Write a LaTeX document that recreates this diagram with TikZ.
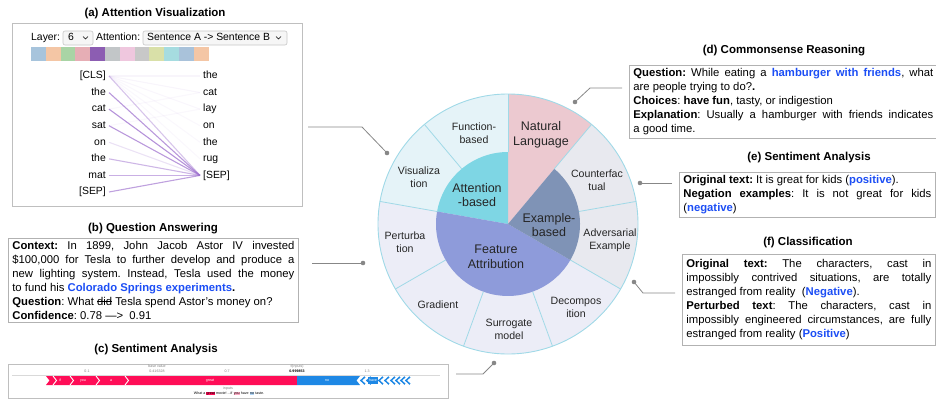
\documentclass[tikz,border=0pt]{standalone}
\usepackage{fontspec}
\setmainfont{Liberation Sans}
\usetikzlibrary{calc}
\frenchspacing

\definecolor{hlblue}{RGB}{28,78,245}
\definecolor{ringline}{RGB}{160,217,231}
\definecolor{ringcyan}{RGB}{229,243,248}
\definecolor{ringlav}{RGB}{236,237,247}
\definecolor{ringgray}{RGB}{232,233,239}
\definecolor{natpink}{RGB}{236,201,208}
\definecolor{attcyan}{RGB}{126,214,228}
\definecolor{featblue}{RGB}{142,155,218}
\definecolor{exslate}{RGB}{127,147,182}
\definecolor{leader}{RGB}{135,135,135}
\definecolor{attpurple}{RGB}{156,110,205}
\definecolor{shapred}{RGB}{255,13,87}
\definecolor{shapblue}{RGB}{30,136,229}
\definecolor{headA}{RGB}{167,196,220}
\definecolor{headB}{RGB}{244,198,165}
\definecolor{headC}{RGB}{169,212,165}
\definecolor{headD}{RGB}{230,174,181}
\definecolor{headE}{RGB}{140,93,178}
\definecolor{headF}{RGB}{194,198,200}
\definecolor{headG}{RGB}{239,199,222}
\definecolor{headH}{RGB}{200,200,200}
\definecolor{headI}{RGB}{217,224,168}
\definecolor{headJ}{RGB}{166,220,224}
\definecolor{headK}{RGB}{169,194,218}
\definecolor{headL}{RGB}{244,198,165}

\newcommand{\tokhl}[2]{{\setlength{\fboxsep}{0.3pt}\colorbox{#1}{#2}}}
\newsavebox{\strikebox}
\newcommand{\strikeword}[1]{\sbox{\strikebox}{#1}\rlap{\rule[0.3em]{\wd\strikebox}{0.7pt}}\usebox{\strikebox}}

\tikzset{
  paneltitle/.style={font=\fontsize{11.5}{13}\selectfont\bfseries},
  panelbox/.style={draw=gray!60, line width=0.7pt, fill=white, inner xsep=4pt,
    inner ysep=3pt, align=justify, font=\fontsize{11.3}{14}\selectfont},
  ringlabel/.style={align=center, font=\fontsize{10.6}{13}\selectfont, text=black!85},
  corelabel/.style={align=center, font=\fontsize{12.5}{14.5}\selectfont, text=black!85},
  token/.style={font=\fontsize{10.4}{12}\selectfont, inner xsep=3pt, inner ysep=0pt,
    text height=7.5pt, text depth=2pt},
  attline/.style={attpurple, line width=1.1pt},
  leaderline/.style={leader, line width=0.8pt},
  dropbox/.style={draw=gray!45, fill=gray!7, rounded corners=2pt, line width=0.6pt},
  tinytext/.style={font=\fontsize{3.6}{4}\selectfont, inner sep=0pt},
}

\begin{document}
\begin{tikzpicture}[x=1pt,y=-1pt]
\useasboundingbox (0,0) rectangle (936,399);

% the wheel
\coordinate (C) at (508,224);
\foreach \a/\b/\c in {90/130/ringcyan,130/170/ringcyan,170/210/ringlav,210/250/ringlav,
  250/290/ringlav,290/330/ringlav,330/370/ringgray,10/50/ringgray,50/90/natpink}
  \fill[\c] (C) -- ++(-\a:130) arc[start angle=-\a, end angle=-\b, radius=130] -- cycle;
\foreach \a/\b/\c in {90/170/attcyan,170/330/featblue,330/410/exslate}
  \fill[\c] (C) -- ++(-\a:72) arc[start angle=-\a, end angle=-\b, radius=72] -- cycle;
\foreach \a in {10,50,...,330}
  \draw[ringline, line width=0.8pt] ($(C)+(-\a:72)$) -- ($(C)+(-\a:130)$);
\draw[ringline, line width=0.9pt] (C) circle[radius=130];

\node[ringlabel] (fb) at (474,133) {Function-\\based};
\node[corelabel] (nl) at (541,135) {Natural\\Language};
\node[ringlabel] (vis) at (419,177) {Visualiza\\tion};
\node[corelabel] (ab) at (477,195) {Attention\\-based};
\node[ringlabel] (cf) at (597,180) {Counterfac\\tual};
\node[corelabel] (eb) at (549,225) {Example-\\based};
\node[ringlabel] (adv) at (610,240) {Adversarial\\Example};
\node[ringlabel] (pert) at (405,242) {Perturba\\tion};
\node[corelabel] (fa) at (496,257) {Feature\\Attribution};
\node[ringlabel] (grad) at (438,305) {Gradient};
\node[ringlabel] (dec) at (576,307) {Decompos\\ition};
\node[ringlabel] (sur) at (509,329) {Surrogate\\model};

% (a) attention visualization
\node[paneltitle] (ta) at (155,14) {(a) Attention Visualization};
\node[draw=gray!50, line width=0.7pt, minimum width=290pt, minimum height=183pt,
  anchor=north west, inner sep=0pt] (viz) at (12,23) {};
\node[token, anchor=west] (layer) at (28,38) {Layer:};
\draw[dropbox] (63,31) rectangle (93,45);
\node[token, anchor=west] (laynum) at (65,38) {6};
\draw[line width=0.6pt] (83,36.5) -- (85.5,39) -- (88,36.5);
\node[token, anchor=west] (attn) at (93,38) {Attention:};
\draw[dropbox] (143,31) rectangle (287,45);
\node[token, anchor=west] (pair) at (144,38) {Sentence A -> Sentence B};
\draw[line width=0.6pt] (276,36.5) -- (278.5,39) -- (281,36.5);
\foreach \col [count=\i from 0] in {headA,headB,headC,headD,headE,headF,headG,headH,headI,headJ,headK,headL}
  \fill[\col] ({31+\i*14.8},47) rectangle ++(14.8,14);
\foreach \w [count=\i] in {{[CLS]},the,cat,sat,on,the,mat,{[SEP]}}
  \node[token, anchor=east] (l\i) at (109,{76+(\i-1)*16.57}) {\w};
\foreach \w [count=\i] in {the,cat,lay,on,the,rug,{[SEP]}}
  \node[token, anchor=west] (r\i) at (200,{76+(\i-1)*16.57}) {\w};
\foreach \s/\t/\o in {1/1/0.07,1/2/0.07,1/3/0.06,1/4/0.05,1/5/0.05,1/6/0.05,1/7/0.4,
  2/7/0.7,3/7/0.75,4/7/0.7,5/7/0.2,6/7/0.5,7/7/0.55,8/7/0.65,4/3/0.05,3/2/0.05}
  \draw[attline, opacity=\o] (l\s.east) -- (r\t.west);

% (b) question answering
\node[paneltitle] (tb) at (153,229) {(b) Question Answering};
\node[panelbox, anchor=north west, text width=282pt] (qa) at (8,238) {%
\textbf{Context:} In 1899, John Jacob Astor IV invested \linebreak
\$100,000 for Tesla to further develop and produce a \linebreak
new lighting system. Instead, Tesla used the money \linebreak
to fund his \textcolor{hlblue}{\textbf{Colorado Springs experiments}}\textbf{.}\\
\textbf{Question}: What \strikeword{did} Tesla spend Astor's money on?\\
\textbf{Confidence}: 0.78 —>\ \ 0.91};

% (c) sentiment analysis, force plot
\node[paneltitle] (tc) at (156,350) {(c) Sentiment Analysis};
\node[draw=gray!50, line width=0.7pt, minimum width=440pt, minimum height=34pt,
  anchor=north west, inner sep=0pt] (force) at (8,364) {};
\draw[gray!30, line width=0.4pt] (12,375.5) -- (440,375.5);
\fill[shapred] (46,376) -- (297,376) -- (297,385) -- (46,385) -- (49.5,380.5) -- cycle;
\foreach \x in {53,70,96,125}
  \draw[white, line width=0.9pt] (\x,376) -- ({\x+3.5},380.5) -- (\x,385);
\fill[shapblue] (297,376) -- (360,376) -- (356.5,380.5) -- (360,385) -- (297,385) -- cycle;
\foreach \x in {361,367,379,385,391,396,401,406}
  \draw[shapblue, line width=1.5pt] ({\x+4},376.8) -- (\x,380.5) -- ({\x+4},384.2);
\fill[shapblue] (368,377) rectangle (378,384);
\node[tinytext, text=white] (fif) at (60,380.5) {if};
\node[tinytext, text=white] (fyou) at (83,380.5) {you};
\node[tinytext, text=white] (fa) at (111,380.5) {a};
\node[tinytext, text=white] (fgreat) at (210,380.5) {great};
\node[tinytext, text=white] (fno) at (327,380.5) {no};
\node[tinytext, text=white] (fhave) at (373,380.5) {have};
\node[tinytext, text=gray] (t01) at (87,371.5) {0.1};
\node[tinytext, text=gray] (tbase) at (157,366.5) {base value};
\node[tinytext, text=gray] (tbv) at (157,371.5) {0.416328};
\node[tinytext, text=gray] (t07) at (227,371.5) {0.7};
\node[tinytext, text=gray] (tfx) at (297,366.5) {f(inputs)};
\node[tinytext] (tfv) at (297,371.5) {\textbf{0.999853}};
\node[tinytext, text=gray] (t13) at (367,371.5) {1.3};
\node[tinytext, text=gray] (tin) at (228,389) {inputs};
\node[tinytext] (tsent) at (229,393.5)
  {What a \tokhl{shapred}{great} movie! ...if \tokhl{shapred!35}{you} have \tokhl{shapblue!35}{no} taste.};

% (d) commonsense reasoning
\node[paneltitle] (td) at (784,51) {(d) Commonsense Reasoning};
\node[panelbox, anchor=north west, text width=300pt] (csr) at (629,65) {%
\textbf{Question:} While eating a \textcolor{hlblue}{\textbf{hamburger with friends}}, what \linebreak
are people trying to do?\textbf{.}\\
\textbf{Choices}: \textbf{have fun}, tasty, or indigestion\\
\textbf{Explanation}: Usually a hamburger with friends indicates \linebreak
a good time.};

% (e) sentiment analysis, negation
\node[paneltitle] (te) at (809,158) {(e) Sentiment Analysis};
\node[panelbox, anchor=north west, text width=248pt] (neg) at (679,172) {%
\textbf{Original text:} It is great for kids (\textcolor{hlblue}{\textbf{positive}}).\\
\textbf{Negation examples}: It is not great for kids \linebreak
(\textcolor{hlblue}{\textbf{negative}})};

% (f) classification
\node[paneltitle] (tf) at (808,243) {(f) Classification};
\node[panelbox, anchor=north west, text width=245pt, inner ysep=5pt] (cls) at (682,254) {%
\textbf{Original text:} The characters, cast in \linebreak
impossibly contrived situations, are totally \linebreak
estranged from reality\ \ (\textcolor{hlblue}{\textbf{Negative}}).\\
\textbf{Perturbed text}: The characters, cast in \linebreak
impossibly engineered circumstances, are fully \linebreak
estranged from reality (\textcolor{hlblue}{\textbf{Positive}})};

% leaders
\coordinate (da) at (387,153);
\coordinate (db) at (363,263);
\coordinate (dc) at (494,363);
\coordinate (dd) at (575,102);
\coordinate (de) at (640,183);
\coordinate (df) at (634,282);
\draw[leaderline] (308,127) -- (362,127) -- (da);
\draw[leaderline] (312,263) -- (db);
\draw[leaderline] (456,374) -- (483,374) -- (dc);
\draw[leaderline] (622,88) -- (590,88) -- (dd);
\draw[leaderline] (672,183) -- (de);
\draw[leaderline] (675,293) -- (643,293) -- (df);
\foreach \p in {da,db,dc,dd,de,df}
  \fill[leader] (\p) circle[radius=2.3];
\end{tikzpicture}
\end{document}
